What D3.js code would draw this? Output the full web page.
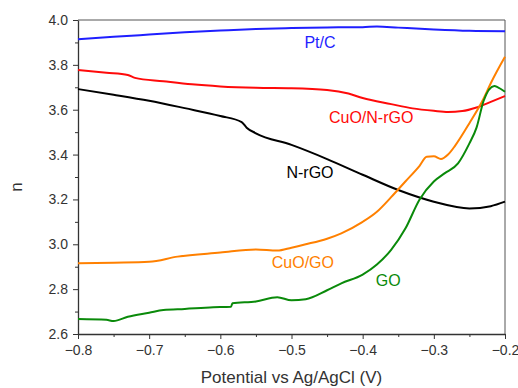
<!DOCTYPE html>
<meta charset="utf-8">
<title>n vs potential</title>
<style>
body { margin: 0; background: #fff; }
text { font-family: "Liberation Sans", Arial, sans-serif; fill: #333; }
.axis path, .axis line { stroke: #333; }
.curve { fill: none; stroke-width: 2; stroke-linejoin: round; }
</style>
<body>
<div id="chart"></div>
<script src="https://cdn.jsdelivr.net/npm/d3@7"></script>
<script>
// data: [potential (V), n]
var ptc = [[-0.8,3.914],[-0.75,3.925],[-0.7,3.935],[-0.65,3.945],[-0.6,3.953],[-0.55,3.96],[-0.5,3.964],
  [-0.45,3.967],[-0.4,3.968],[-0.38,3.971],[-0.35,3.966],[-0.3,3.958],[-0.25,3.952],[-0.2,3.95]];

var cuoNrgo = [[-0.8,3.777],[-0.76,3.765],[-0.73,3.755],[-0.72,3.742],[-0.68,3.727],[-0.64,3.713],[-0.6,3.704],
  [-0.55,3.698],[-0.5,3.696],[-0.45,3.688],[-0.42,3.672],[-0.4,3.652],[-0.36,3.625],[-0.33,3.606],[-0.3,3.595],
  [-0.28,3.59],[-0.26,3.594],[-0.24,3.61],[-0.22,3.635],[-0.2,3.661]];

var nrgo = [[-0.8,3.692],[-0.75,3.667],[-0.7,3.64],[-0.65,3.607],[-0.6,3.572],[-0.57,3.545],[-0.563,3.52],
  [-0.55,3.495],[-0.5,3.443],[-0.45,3.38],[-0.4,3.31],[-0.35,3.242],[-0.3,3.19],[-0.25,3.16],[-0.22,3.17],[-0.2,3.19]];

var cuoGo = [[-0.8,2.915],[-0.75,2.918],[-0.7,2.922],[-0.66,2.945],[-0.6,2.963],[-0.55,2.977],[-0.52,2.972],
  [-0.5,2.985],[-0.48,3.0],[-0.45,3.025],[-0.43,3.049],[-0.4,3.1],[-0.38,3.145],[-0.36,3.21],[-0.34,3.28],
  [-0.32,3.35],[-0.31,3.39],[-0.3,3.392],[-0.29,3.38],[-0.28,3.4],[-0.27,3.44],[-0.25,3.54],[-0.23,3.65],
  [-0.22,3.718],[-0.2,3.836]];

var go = [[-0.8,2.667],[-0.76,2.663],[-0.75,2.658],[-0.73,2.677],[-0.7,2.695],[-0.68,2.707],[-0.65,2.712],
  [-0.61,2.719],[-0.585,2.722],[-0.583,2.737],[-0.55,2.745],[-0.52,2.764],[-0.5,2.75],[-0.48,2.755],
  [-0.45,2.795],[-0.43,2.826],[-0.4,2.865],[-0.38,2.91],[-0.36,2.975],[-0.34,3.07],[-0.32,3.2],[-0.3,3.28],
  [-0.285,3.316],[-0.266,3.361],[-0.25,3.45],[-0.24,3.52],[-0.23,3.64],[-0.215,3.706],[-0.21,3.7],[-0.2,3.68]];

var series = [
  {name: "Pt/C", values: ptc, color: "#1f1fff", lx: -0.46, ly: 3.875},
  {name: "CuO/N-rGO", values: cuoNrgo, color: "#ff0a0a", lx: -0.388, ly: 3.541},
  {name: "N-rGO", values: nrgo, color: "#000000", lx: -0.474, ly: 3.296},
  {name: "CuO/GO", values: cuoGo, color: "#ff8000", lx: -0.484, ly: 2.894},
  {name: "GO", values: go, color: "#0a8a0a", lx: -0.364, ly: 2.814}
];

var xTicks = [-0.8, -0.7, -0.6, -0.5, -0.4, -0.3, -0.2];
var yTicks = [2.6, 2.8, 3.0, 3.2, 3.4, 3.6, 3.8, 4.0];

var margin = {top: 20, right: 13, bottom: 54, left: 78},
    width = 518 - margin.left - margin.right,
    height = 388 - margin.top - margin.bottom;

var svg = d3.select("#chart").append("svg")
    .attr("width", 518)
    .attr("height", 388)
  .append("g")
    .attr("transform", "translate(" + margin.left + "," + margin.top + ")");

var x = d3.scaleLinear().domain([-0.8, -0.2]).range([0, width]);
var y = d3.scaleLinear().domain([2.6, 4.0]).range([height, 0]);

// frame (top & right)
svg.append("path")
    .attr("d", "M0,0H" + width + "V" + height)
    .attr("fill", "none")
    .attr("stroke", "#555")
    .attr("stroke-width", 1);

// minor ticks
svg.append("g")
    .attr("class", "axis")
    .attr("transform", "translate(0," + height + ")")
    .call(d3.axisBottom(x).tickValues(d3.range(-0.75, -0.2, 0.1)).tickSize(3).tickFormat(""))
    .call(function(g) { g.select(".domain").remove(); });
svg.append("g")
    .attr("class", "axis")
    .call(d3.axisLeft(y).tickValues(d3.range(2.7, 4.0, 0.2)).tickSize(3).tickFormat(""))
    .call(function(g) { g.select(".domain").remove(); });

var xAxis = svg.append("g")
    .attr("class", "axis")
    .attr("transform", "translate(0," + height + ")")
    .call(d3.axisBottom(x).tickValues(xTicks).tickSize(5).tickSizeOuter(0).tickPadding(6).tickFormat(d3.format(".1f")));
xAxis.selectAll("text").style("font-size", "14px");

var yAxis = svg.append("g")
    .attr("class", "axis")
    .call(d3.axisLeft(y).tickValues(yTicks).tickSize(5).tickSizeOuter(0).tickPadding(5).tickFormat(d3.format(".1f")));
yAxis.selectAll("text").style("font-size", "14px");

svg.selectAll(".axis .domain").attr("stroke-width", 1.3);

var line = d3.line()
    .x(function(d) { return x(d[0]); })
    .y(function(d) { return y(d[1]); })
    .curve(d3.curveMonotoneX);

svg.append("g").selectAll(".curve")
    .data(series)
  .enter().append("path")
    .attr("class", "curve")
    .attr("d", function(d) { return line(d.values); })
    .attr("stroke", function(d) { return d.color; });

svg.append("g").selectAll(".lbl")
    .data(series)
  .enter().append("text")
    .attr("class", "lbl")
    .attr("x", function(d) { return x(d.lx); })
    .attr("y", function(d) { return y(d.ly); })
    .attr("text-anchor", "middle")
    .style("font-size", "16px")
    .style("fill", function(d) { return d.color; })
    .text(function(d) { return d.name; });

svg.append("text")
    .attr("x", width / 2)
    .attr("y", height + 49)
    .attr("text-anchor", "middle")
    .style("font-size", "17px")
    .text("Potential vs Ag/AgCl (V)");

svg.append("text")
    .attr("transform", "translate(-56," + (height / 2 + 10) + ")rotate(-90)")
    .attr("text-anchor", "middle")
    .style("font-size", "17px")
    .text("n");
</script>
</body>
